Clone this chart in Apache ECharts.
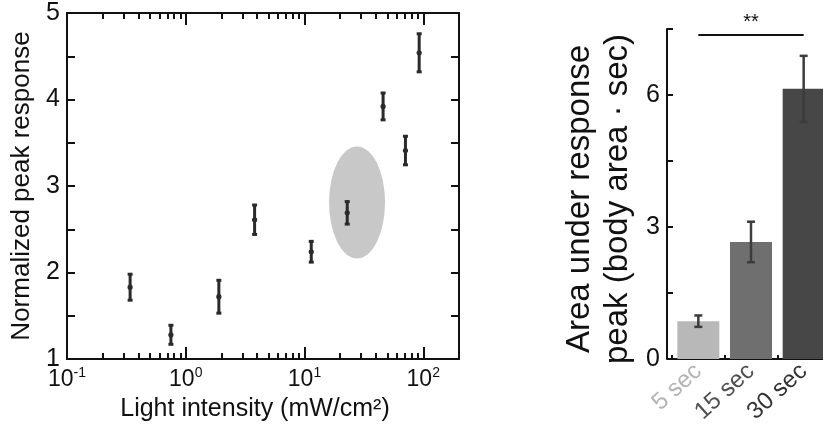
<!DOCTYPE html>
<html>
<head>
<meta charset="utf-8">
<script src="https://cdn.jsdelivr.net/npm/echarts@6/dist/echarts.min.js"></script>
<style>
html, body { margin: 0; padding: 0; background: #fff; }
#main { width: 823px; height: 436px; }
</style>
</head>
<body>
<div id="main"></div>
<script>
// left panel: peak response vs light intensity
var intensity = [0.34, 0.75, 1.9, 3.8, 11.4, 22.9, 45.9, 70.8, 92.4];
var peakResp  = [1.83, 1.28, 1.72, 2.61, 2.24, 2.69, 3.92, 3.41, 4.54];
var peakErr   = [0.15, 0.11, 0.19, 0.17, 0.12, 0.13, 0.155, 0.165, 0.22];
var ovalAt    = [27.7, 2.81];   // grey highlight
var decadeExp = [-1, 0, 1, 2];
var minorMult = [2, 3, 4, 5, 6, 7, 8, 9];

// right panel: area under response peak
var durations = ['5 sec', '15 sec', '30 sec'];
var areaVals  = [0.86, 2.66, 6.14];
var areaErr   = [0.13, 0.46, 0.75];
var sigLevel  = 7.36;
var sigText   = '**';

var barColors = ['#b8b8b8', '#6f6f6f', '#474747'];
var labColors = ['#b3b3b3', '#4f4f4f', '#333333'];
var ink = '#111';

var xMin = -1, xMax = Math.log10(200);
var minorTicks = [];
decadeExp.forEach(function (e) {
    minorMult.forEach(function (m) {
        var v = Math.log10(m) + e;
        if (v < xMax - 1e-6) minorTicks.push(v);
    });
});

var myChart = echarts.init(document.getElementById('main'));

function errBars(capHalf, lw, dot) {
    return function (params, api) {
        var x = api.value(0), y = api.value(1), e = api.value(2);
        var top = api.coord([x, y + e]);
        var bot = api.coord([x, y - e]);
        var mid = api.coord([x, y]);
        var st = { stroke: api.visual('color'), lineWidth: lw };
        var kids = [
            { type: 'line', shape: { x1: top[0], y1: top[1], x2: bot[0], y2: bot[1] }, style: st },
            { type: 'line', shape: { x1: top[0] - capHalf, y1: top[1], x2: top[0] + capHalf, y2: top[1] }, style: st },
            { type: 'line', shape: { x1: bot[0] - capHalf, y1: bot[1], x2: bot[0] + capHalf, y2: bot[1] }, style: st }
        ];
        if (dot) {
            kids.push({ type: 'circle', shape: { cx: mid[0], cy: mid[1], r: dot }, style: { fill: api.visual('color') } });
        }
        return { type: 'group', children: kids };
    };
}

var boxLine = { show: true, onZero: false, lineStyle: { color: ink, width: 2 } };

function logAxis(pos, ticks, len, withLabels) {
    return {
        type: 'value', gridIndex: 0, position: pos,
        min: xMin, max: xMax,
        axisLine: withLabels === null ? { show: false } : boxLine,
        splitLine: { show: false },
        axisTick: { show: true, inside: true, length: len, customValues: ticks,
                    lineStyle: { color: ink, width: 2 } },
        axisLabel: withLabels ? {
            show: true, customValues: decadeExp, margin: 7, color: ink,
            formatter: function (v) { return '{b|10}{s|' + v + '}'; },
            rich: {
                b: { fontSize: 23, lineHeight: 27, color: ink },
                s: { fontSize: 14, lineHeight: 15, verticalAlign: 'top', color: ink }
            }
        } : { show: false }
    };
}

var xLeftMain = logAxis('bottom', decadeExp, 12, true);
xLeftMain.name = 'Light intensity (mW/cm\u00b2)';
xLeftMain.nameLocation = 'middle';
xLeftMain.nameGap = 38;
xLeftMain.nameTextStyle = { fontSize: 25, color: ink, padding: [0, 16, 0, 0] };

option = {
    animation: false,
    textStyle: { fontFamily: 'Liberation Sans, Arial, sans-serif' },
    grid: [
        { left: 67, right: 364, top: 13, bottom: 77, outerBoundsMode: 'none' },
        { left: 672, right: -7, top: 29, bottom: 77, outerBoundsMode: 'none' }
    ],
    xAxis: [
        xLeftMain,
        logAxis('bottom', minorTicks, 6, null),
        logAxis('top', decadeExp, 12, false),
        logAxis('top', minorTicks, 6, null),
        {
            type: 'category', gridIndex: 1, position: 'bottom',
            data: durations,
            axisLine: boxLine,
            axisTick: { show: true, inside: true, length: 4, alignWithLabel: false,
                        lineStyle: { color: ink, width: 2 } },
            axisLabel: {
                rotate: 42, margin: 9, fontSize: 24, interval: 0,
                color: function (v, i) { return labColors[i]; }
            }
        }
    ],
    yAxis: [
        {
            type: 'value', gridIndex: 0, position: 'left',
            min: 1, max: 5, interval: 0.5,
            axisLine: boxLine,
            splitLine: { show: false },
            axisTick: { show: true, inside: true, length: 8, lineStyle: { color: ink, width: 2 } },
            axisLabel: {
                margin: 7, fontSize: 25, color: ink,
                formatter: function (v) { return v % 1 === 0 ? String(v) : ''; }
            },
            name: 'Normalized peak response',
            nameLocation: 'middle', nameGap: 30,
            nameTextStyle: { fontSize: 26, lineHeight: 30, color: ink }
        },
        {
            type: 'value', gridIndex: 0, position: 'right',
            min: 1, max: 5, interval: 0.5,
            axisLine: boxLine,
            splitLine: { show: false },
            axisTick: { show: true, inside: true, length: 8, lineStyle: { color: ink, width: 2 } },
            axisLabel: { show: false }
        },
        {
            type: 'value', gridIndex: 1, position: 'left', offset: 5,
            min: 0, max: 7.5, interval: 1.5,
            axisLine: boxLine,
            splitLine: { show: false },
            axisTick: { show: true, inside: true, length: 6, lineStyle: { color: ink, width: 2 } },
            axisLabel: {
                margin: 7, fontSize: 25, color: ink,
                formatter: function (v) { return v % 3 === 0 ? String(v) : ''; }
            },
            name: 'Area under response\npeak (body area \u00b7 sec)',
            nameLocation: 'middle', nameGap: 30,
            nameTextStyle: { fontSize: 33, lineHeight: 38, color: ink, padding: [0, 10, 0, 0] }
        }
    ],
    series: [
        {
            type: 'scatter', xAxisIndex: 0, yAxisIndex: 0, silent: true, z: 1,
            symbol: 'circle', symbolSize: [56, 112],
            itemStyle: { color: '#c8c8c8', opacity: 1 },
            data: [[Math.log10(ovalAt[0]), ovalAt[1]]]
        },
        {
            type: 'custom', xAxisIndex: 0, yAxisIndex: 0, z: 3,
            itemStyle: { color: '#2a2a2a' },
            renderItem: errBars(2.5, 3, 2.6),
            data: intensity.map(function (x, i) { return [Math.log10(x), peakResp[i], peakErr[i]]; })
        },
        {
            type: 'bar', xAxisIndex: 4, yAxisIndex: 2, barWidth: 42,
            data: areaVals.map(function (v, i) { return { value: v, itemStyle: { color: barColors[i] } }; }),
            markLine: {
                silent: true, symbol: ['none', 'none'],
                lineStyle: { color: ink, width: 2, type: 'solid' },
                label: { show: true, position: 'insideMiddleTop', distance: 3, formatter: sigText,
                         fontSize: 20, color: ink },
                data: [[{ coord: [durations[0], sigLevel] }, { coord: [durations[2], sigLevel] }]]
            }
        },
        {
            type: 'custom', xAxisIndex: 4, yAxisIndex: 2, z: 3,
            itemStyle: { color: '#3c3c3c' },
            renderItem: errBars(4, 2.5, 0),
            data: durations.map(function (d, i) { return [d, areaVals[i], areaErr[i]]; })
        }
    ]
};

myChart.setOption(option);
</script>
</body>
</html>
